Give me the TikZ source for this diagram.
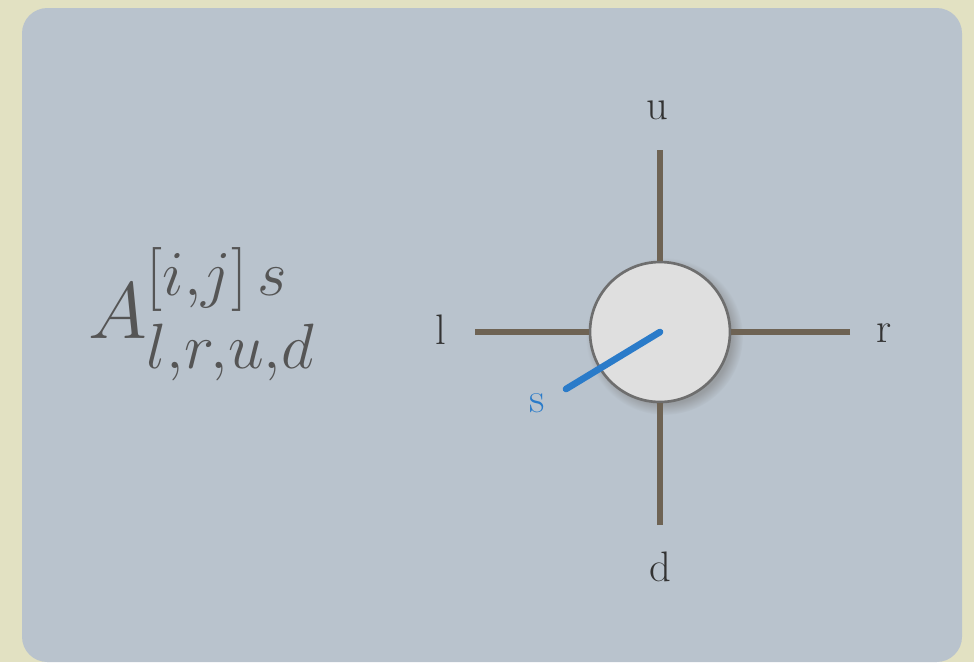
\documentclass[tikz,border=0pt]{standalone}
\usepackage{fix-cm}
\usepackage{amsmath,amssymb}
\usepackage{tikz}
\usepackage{xcolor}
\usetikzlibrary{positioning,shadows}

\DeclareMathSizes{60}{60}{48}{36}

\definecolor{paper}{HTML}{E2E1C2}
\definecolor{panel}{HTML}{B9C3CD}
\definecolor{leg}{HTML}{6E6354}
\definecolor{phys}{HTML}{2A7BC9}
\definecolor{ink}{HTML}{555555}

\begin{document}
\begin{tikzpicture}[
    x=0.75pt, y=-0.75pt,
    legline/.style={draw=leg, line width=3.8pt},
    physline/.style={draw=phys, line width=5pt, line cap=round},
    tensor/.style={circle, draw=ink!85, line width=2pt, fill=gray!25!white, minimum size=105pt,
        circular drop shadow={shadow xshift=3pt, shadow yshift=-3pt, shadow scale=1.12, opacity=0.55}},
    lbl/.style={text=black!80, font=\fontsize{32}{34}\selectfont}
]
% background and panel
\fill[paper] (0,0) rectangle (974,662);
\useasboundingbox (0,0) rectangle (974,662);
\fill[panel, rounded corners=19pt] (22,8) rectangle (962,662);

% formula
\node[text=ink, font=\fontsize{60}{64}\selectfont, anchor=west, inner sep=0pt] (formula) at (88,314) {$A^{[i,j]\,s}_{l,r,u,d}$};

% leg end points
\coordinate (upend) at (660,150);
\coordinate (downend) at (660,525);
\coordinate (leftend) at (475,332);
\coordinate (rightend) at (850,332);
\coordinate (physend) at (566,389);

\node[tensor] (site) at (660,332) {};

\draw[legline] (upend) -- (site.north);
\draw[legline] (downend) -- (site.south);
\draw[legline] (leftend) -- (site.west);
\draw[legline] (rightend) -- (site.east);
\draw[physline] (site.center) -- (physend);

% labels
\node[lbl] (ulbl) at (657,110) {u};
\node[lbl] (dlbl) at (660,567) {d};
\node[lbl] (llbl) at (441,330) {l};
\node[lbl] (rlbl) at (884,333) {r};
\node[lbl, text=phys] (slbl) at (537,403) {s};
\end{tikzpicture}
\end{document}
